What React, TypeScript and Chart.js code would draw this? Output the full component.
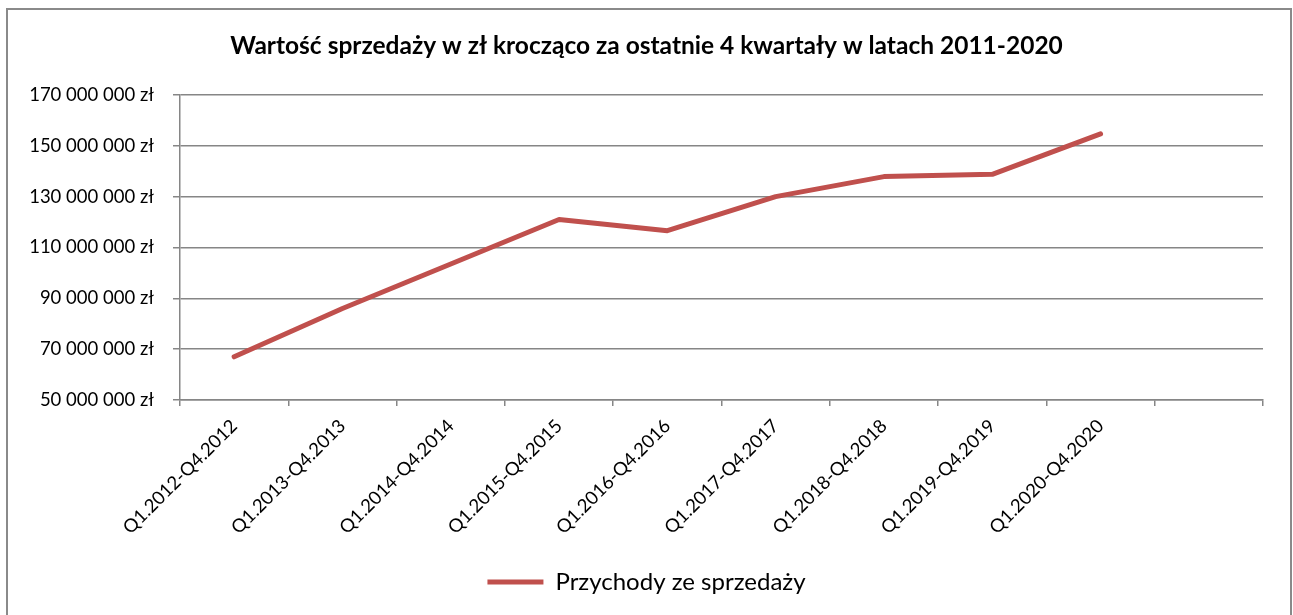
import React, { useEffect, useRef } from 'react';
import { Chart, registerables } from 'chart.js';

Chart.register(...registerables);

const chartTitle = 'Wartość sprzedaży w zł krocząco za ostatnie 4 kwartały w latach 2011-2020';
const seriesLabel = 'Przychody ze sprzedaży';

const categories = [
  'Q1.2012-Q4.2012',
  'Q1.2013-Q4.2013',
  'Q1.2014-Q4.2014',
  'Q1.2015-Q4.2015',
  'Q1.2016-Q4.2016',
  'Q1.2017-Q4.2017',
  'Q1.2018-Q4.2018',
  'Q1.2019-Q4.2019',
  'Q1.2020-Q4.2020',
  '',
];

const salesValues = [
  67000000, 86000000, 103500000, 121000000, 116600000, 130000000, 137900000, 138800000, 154700000,
];

const yMin = 50000000;
const yMax = 170000000;
const yStep = 20000000;

const FONT = 'Lato, "Open Sans", "DejaVu Sans", sans-serif';
const LINE_RED = '#C0504D';
const GRID = '#868686';

function formatZl(v: number): string {
  return String(Math.round(v)).replace(/\B(?=(\d{3})+(?!\d))/g, ' ') + ' zł';
}

export default function App() {
  const canvasRef = useRef<HTMLCanvasElement | null>(null);

  useEffect(() => {
    const canvas = canvasRef.current;
    if (!canvas) return;
    const chart = new Chart(canvas, {
      type: 'line',
      data: {
        labels: categories,
        datasets: [
          {
            label: seriesLabel,
            data: salesValues,
            borderColor: LINE_RED,
            backgroundColor: LINE_RED,
            borderWidth: 5,
            borderCapStyle: 'round',
            borderJoinStyle: 'round',
            pointRadius: 0,
            pointHoverRadius: 0,
            pointStyle: 'line',
            tension: 0,
            fill: false,
            yAxisID: 'y',
          },
        ],
      },
      options: {
        responsive: false,
        animation: false,
        events: [],
        layout: { padding: { top: 0, left: 0, right: 0, bottom: 11 } },
        plugins: {
          tooltip: { enabled: false },
          title: {
            display: true,
            text: chartTitle,
            color: '#000',
            font: { family: FONT, size: 24.5, weight: 'bold', lineHeight: 1.2 },
            padding: { top: 31.5, bottom: 34.1 },
          },
          legend: {
            display: true,
            position: 'bottom',
            labels: {
              color: '#000',
              font: { family: FONT, size: 24 },
              usePointStyle: true,
              pointStyleWidth: 56,
              padding: 10,
            },
          },
        },
        scales: {
          x: {
            type: 'category',
            offset: true,
            grid: {
              display: true,
              offset: true,
              drawOnChartArea: false,
              drawTicks: true,
              tickLength: 6,
              color: GRID,
              lineWidth: 1.5,
            },
            border: { display: true, color: GRID, width: 1.5 },
            ticks: {
              autoSkip: false,
              minRotation: 45,
              maxRotation: 45,
              padding: 9,
              color: '#000',
              font: { family: FONT, size: 18.5 },
            },
            afterFit: (scale: any) => {
              scale.height = 160;
            },
          },
          y: {
            type: 'linear',
            position: 'left',
            min: yMin,
            max: yMax,
            grid: {
              display: true,
              drawTicks: true,
              tickLength: 7,
              color: GRID,
              lineWidth: 1.5,
            },
            border: { display: true, color: GRID, width: 1.5 },
            ticks: {
              stepSize: yStep,
              padding: 19,
              color: '#000',
              font: { family: FONT, size: 18.5 },
              callback: (v: any) => formatZl(Number(v)),
            },
            afterFit: (scale: any) => {
              scale.width = 180;
            },
          },
          rightSpace: {
            type: 'linear',
            position: 'right',
            display: true,
            grid: { display: false, drawTicks: false },
            border: { display: false },
            ticks: { display: false },
            afterFit: (scale: any) => {
              scale.width = 30;
            },
          },
        },
      },
    });
    return () => chart.destroy();
  }, []);

  return (
    <div
      style={{
        position: 'fixed',
        left: 0,
        top: 0,
        width: 1293,
        height: 615,
        overflow: 'hidden',
        background: '#fff',
      }}
    >
      <div
        style={{
          position: 'absolute',
          left: 6,
          top: 8,
          width: 1286,
          height: 640,
          boxSizing: 'border-box',
          border: '2px solid #8a8a8a',
        }}
      />
      <canvas
        ref={canvasRef}
        width={1293}
        height={615}
        style={{ position: 'absolute', left: 0, top: 0, width: 1293, height: 615 }}
      />
    </div>
  );
}
